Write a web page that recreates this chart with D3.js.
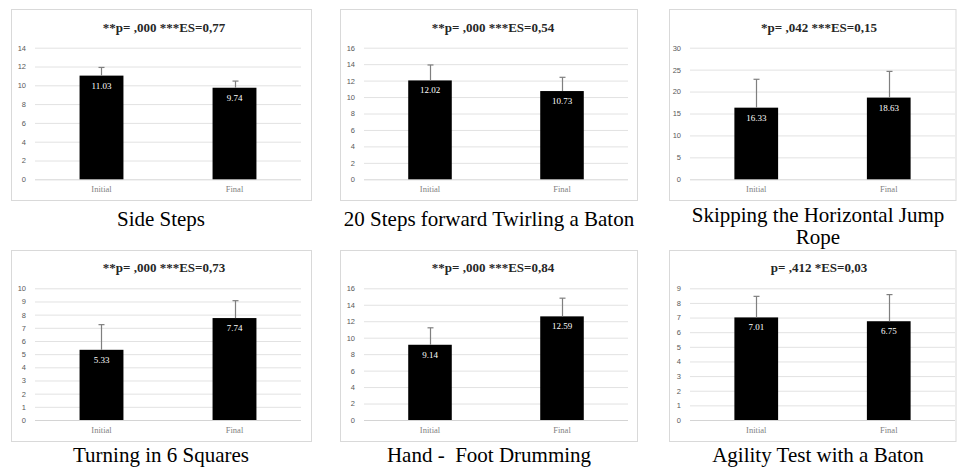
<!DOCTYPE html>
<html>
<head>
<meta charset="utf-8">
<script src="https://cdn.jsdelivr.net/npm/d3@7"></script>
<style>
  html, body { margin: 0; padding: 0; background: #fff; }
  svg { display: block; }
</style>
</head>
<body>
<svg id="chart" width="957" height="468"></svg>
<script>
// ---- data ----
const categories = ["Initial", "Final"];
const titles = [
  "**p= ,000 ***ES=0,77",
  "**p= ,000 ***ES=0,54",
  "*p= ,042 ***ES=0,15",
  "**p= ,000 ***ES=0,73",
  "**p= ,000 ***ES=0,84",
  "p= ,412 *ES=0,03"
];
const captions = [
  ["Side Steps"],
  ["20 Steps forward Twirling a Baton"],
  ["Skipping the Horizontal Jump", "Rope"],
  ["Turning in 6 Squares"],
  ["Hand -  Foot Drumming"],
  ["Agility Test with a Baton"]
];
const means = [
  [11.03, 9.74],
  [12.02, 10.73],
  [16.33, 18.63],
  [5.33, 7.74],
  [9.14, 12.59],
  [7.01, 6.75]
];
const sds = [
  [0.87, 0.71],
  [1.88, 1.67],
  [6.47, 5.97],
  [1.91, 1.32],
  [2.06, 2.21],
  [1.44, 1.82]
];
const yMax = [14, 16, 30, 10, 16, 9];
const yStep = [2, 2, 5, 1, 2, 1];

// ---- layout ----
const cols = [
  { boxX0: 11, boxX1: 312, plotX0: 35, plotX1: 301, titleX: 164, capX: 161 },
  { boxX0: 340, boxX1: 638, plotX0: 364, plotX1: 628, titleX: 493, capX: 489 },
  { boxX0: 669, boxX1: 956.5, plotX0: 690, plotX1: 955, titleX: 819, capX: 818 }
];
const rows = [
  { boxY0: 9, boxY1: 201, plotY0: 47.7, plotY1: 179.3, titleY: 31.5, catY: 192, capY: 226 },
  { boxY0: 250, boxY1: 442, plotY0: 288.3, plotY1: 420, titleY: 272.3, catY: 433, capY: 462 }
];

const svg = d3.select("#chart");

titles.forEach((title, i) => {
  const c = cols[i % 3], r = rows[Math.floor(i / 3)];
  const g = svg.append("g");

  // frame
  g.append("rect")
    .attr("x", c.boxX0 + 0.5).attr("y", r.boxY0 + 0.5)
    .attr("width", c.boxX1 - c.boxX0 - 1).attr("height", r.boxY1 - r.boxY0 - 1)
    .attr("fill", "#fff").attr("stroke", "#d9d9d9").attr("stroke-width", 1);

  const x = d3.scaleBand().domain(categories)
    .range([c.plotX0, c.plotX1]).paddingInner(0.67).paddingOuter(0.335);
  const y = d3.scaleLinear().domain([0, yMax[i]]).range([r.plotY1, r.plotY0]);
  const ticks = d3.range(0, yMax[i] + yStep[i] / 2, yStep[i]);

  // gridlines
  const grid = g.append("g")
    .attr("transform", `translate(${c.plotX0},0)`)
    .call(d3.axisLeft(y).tickValues(ticks).tickSize(-(c.plotX1 - c.plotX0)).tickFormat(""));
  grid.select(".domain").remove();
  grid.selectAll("line").attr("stroke", "#e2e2e2").attr("stroke-width", 1);
  grid.selectAll(".tick").filter(d => d === 0).select("line").attr("stroke", "#d4d4d4");

  // y labels
  const ya = g.append("g")
    .attr("transform", `translate(${c.plotX0},0)`)
    .call(d3.axisLeft(y).tickValues(ticks).tickSize(0).tickPadding(9).tickFormat(d3.format("d")));
  ya.select(".domain").remove();
  ya.selectAll("text")
    .attr("font-family", "'Liberation Sans', Arial, sans-serif")
    .attr("font-size", "7.5px").attr("fill", "#595959");

  // x labels
  const xa = g.append("g")
    .attr("transform", `translate(0,${r.plotY1})`)
    .call(d3.axisBottom(x).tickSize(0).tickPadding(0));
  xa.select(".domain").remove();
  xa.selectAll("text")
    .attr("y", r.catY - r.plotY1).attr("dy", 0)
    .attr("font-family", "'Liberation Serif', 'Times New Roman', serif")
    .attr("font-size", "8.5px").attr("fill", "#7f7f7f");

  // bars
  const vals = categories.map((cat, j) => ({ cat, v: means[i][j], sd: sds[i][j] }));
  g.selectAll(".bar").data(vals).enter().append("rect")
    .attr("x", d => x(d.cat)).attr("width", x.bandwidth())
    .attr("y", d => y(d.v)).attr("height", d => y(0) - y(d.v))
    .attr("fill", "#000");

  // error bars
  const capW = 3;
  vals.forEach(d => {
    const cx = Math.round(x(d.cat) + x.bandwidth() / 2) + 0.5;
    g.append("line").attr("x1", cx).attr("x2", cx)
      .attr("y1", y(d.v)).attr("y2", y(d.v + d.sd))
      .attr("stroke", "#7f7f7f").attr("stroke-width", 1.2);
    g.append("line").attr("x1", cx - capW).attr("x2", cx + capW)
      .attr("y1", y(d.v + d.sd)).attr("y2", y(d.v + d.sd))
      .attr("stroke", "#7f7f7f").attr("stroke-width", 1.2);
  });

  // value labels
  g.selectAll(".val").data(vals).enter().append("text")
    .attr("x", d => x(d.cat) + x.bandwidth() / 2)
    .attr("y", d => y(d.v) + 13)
    .attr("text-anchor", "middle")
    .attr("font-family", "'Liberation Serif', 'Times New Roman', serif")
    .attr("font-size", "9px").attr("fill", "#fff")
    .text(d => d3.format(".2f")(d.v));

  // title
  g.append("text")
    .attr("x", c.titleX).attr("y", r.titleY)
    .attr("text-anchor", "middle")
    .attr("font-family", "'Liberation Serif', 'Times New Roman', serif")
    .attr("font-weight", "bold").attr("font-size", "13px").attr("fill", "#262626")
    .text(title);

  // caption
  const cap = svg.append("text")
    .attr("x", c.capX).attr("y", r.capY - (captions[i].length - 1) * 4)
    .attr("text-anchor", "middle")
    .attr("font-family", "'Liberation Serif', 'Times New Roman', serif")
    .attr("font-size", "21px").attr("fill", "#000")
    .style("white-space", "pre");
  captions[i].forEach((line, k) => {
    cap.append("tspan").attr("x", c.capX).attr("dy", k === 0 ? 0 : 22).text(line);
  });
});
</script>
</body>
</html>
